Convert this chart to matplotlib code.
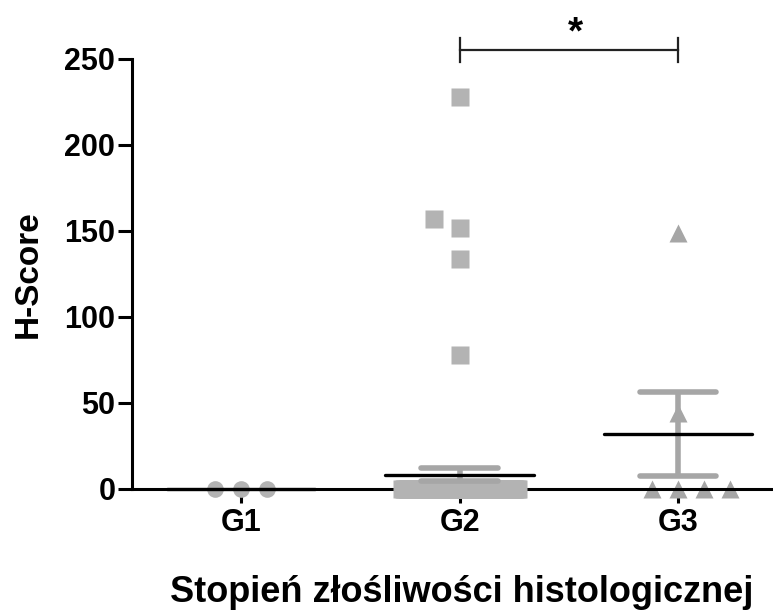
import numpy as np
import matplotlib
matplotlib.use('Agg')
import matplotlib.pyplot as plt

# ---------------- data ----------------
categories = ['G1', 'G2', 'G3']
g1_values = [0, 0, 0]
g2_high_values = [228, 157, 152, 134, 78]
g2_zero_count = 86
g2_values = g2_high_values + [0] * g2_zero_count
g3_values = [149, 44, 0, 0, 0, 0]
y_ticks = [0, 50, 100, 150, 200, 250]
sig_pair = ('G2', 'G3')
sig_label = '*'
x_label = 'Stopień złośliwości histologicznej'
y_label = 'H-Score'

# ---------------- style ----------------
plt.rcParams['font.family'] = ['Liberation Sans', 'DejaVu Sans']
plt.rcParams['font.weight'] = 'bold'

groups = [g1_values, g2_values, g3_values]
markers = ['o', 's', '^']
marker_sizes = [12, 13, 13]
marker_colors = ['#b3b3b3', '#b3b3b3', '#a6a6a6']
marker_z = [3, 7, 3]
err_color = '#a6a6a6'
step = 0.119          # horizontal step between overlapping points (axis units)
max_half = 0.265      # max half width of a row of equal values
y_tol = 10.0          # vertical overlap tolerance (data units)


def swarm_offsets(values):
    vals = np.asarray(values, float)
    offs = np.zeros(len(vals))
    for u in np.unique(vals):
        idx = np.where(vals == u)[0]
        n = len(idx)
        s = step if n <= 1 else min(step, 2 * max_half / (n - 1))
        for k, i in enumerate(idx):
            offs[i] = ((k + 1) // 2) * (1 if k % 2 == 1 else -1) * s
    # shift points overlapping a lower neighbour to the left
    order = np.argsort(vals, kind='stable')
    placed = []
    for i in order:
        for j in placed:
            if vals[j] != vals[i] and abs(vals[i] - vals[j]) < y_tol and abs(offs[i] - offs[j]) < 1e-9:
                offs[i] -= step
        placed.append(i)
    return offs


fig = plt.figure(figsize=(7.73, 6.10), dpi=100)
ax = fig.add_axes([132 / 773, 121 / 610, 640 / 773, 430 / 610])

for gi, vals in enumerate(groups):
    xc = gi + 1
    offs = swarm_offsets(vals)
    ax.plot(xc + offs, vals, ls='none', marker=markers[gi], ms=marker_sizes[gi],
            mfc=marker_colors[gi], mec='none', clip_on=False, zorder=marker_z[gi])
    arr = np.asarray(vals, float)
    m = arr.mean()
    sem = arr.std(ddof=1) / np.sqrt(len(arr))
    if sem > 0:
        ax.plot([xc, xc], [m - sem, m + sem], color=err_color, lw=4,
                solid_capstyle='butt', zorder=7.5, clip_on=False)
        for yy in (m - sem, m + sem):
            ax.plot([xc - 0.175, xc + 0.175], [yy, yy], color=err_color, lw=4,
                    solid_capstyle='round', zorder=7.5, clip_on=False)
    ax.plot([xc - 0.34, xc + 0.34], [m, m], color='black', lw=2.4,
            solid_capstyle='round', zorder=8, clip_on=False)

ax.set_xlim(0.5, 3.43)
ax.set_ylim(y_ticks[0], y_ticks[-1])
ax.set_xticks(range(1, len(categories) + 1))
ax.set_xticklabels(categories, fontsize=22, fontweight='bold')
ax.set_yticks(y_ticks)
ax.set_yticklabels([str(t) for t in y_ticks], fontsize=22, fontweight='bold')
ax.tick_params(axis='both', direction='out', length=10, width=2.2, colors='black')
ax.tick_params(axis='y', pad=2)
ax.tick_params(axis='x', pad=4)

for side in ('top', 'right'):
    ax.spines[side].set_visible(False)
for side in ('left', 'bottom'):
    ax.spines[side].set_linewidth(2.2)
    ax.spines[side].set_zorder(6)

ax.set_ylabel(y_label, fontsize=24, fontweight='bold', labelpad=15)
fig.text(462 / 773, 8 / 610, x_label, fontsize=26, fontweight='bold',
         ha='center', va='baseline')

# significance bracket
x1 = categories.index(sig_pair[0]) + 1
x2 = categories.index(sig_pair[1]) + 1
ytop = y_ticks[-1]
yb = ytop * 1.021
th = ytop * 0.028
ax.plot([x1, x2], [yb, yb], color='#222222', lw=1.6, clip_on=False)
for xx in (x1, x2):
    ax.plot([xx, xx], [yb - th, yb + th], color='#222222', lw=1.6, clip_on=False)
ax.text((x1 + x2) / 2 + 0.03, yb + ytop * 0.016, sig_label, fontsize=28,
        fontweight='bold', ha='center', va='baseline')

fig.savefig('out.png', dpi=100)
